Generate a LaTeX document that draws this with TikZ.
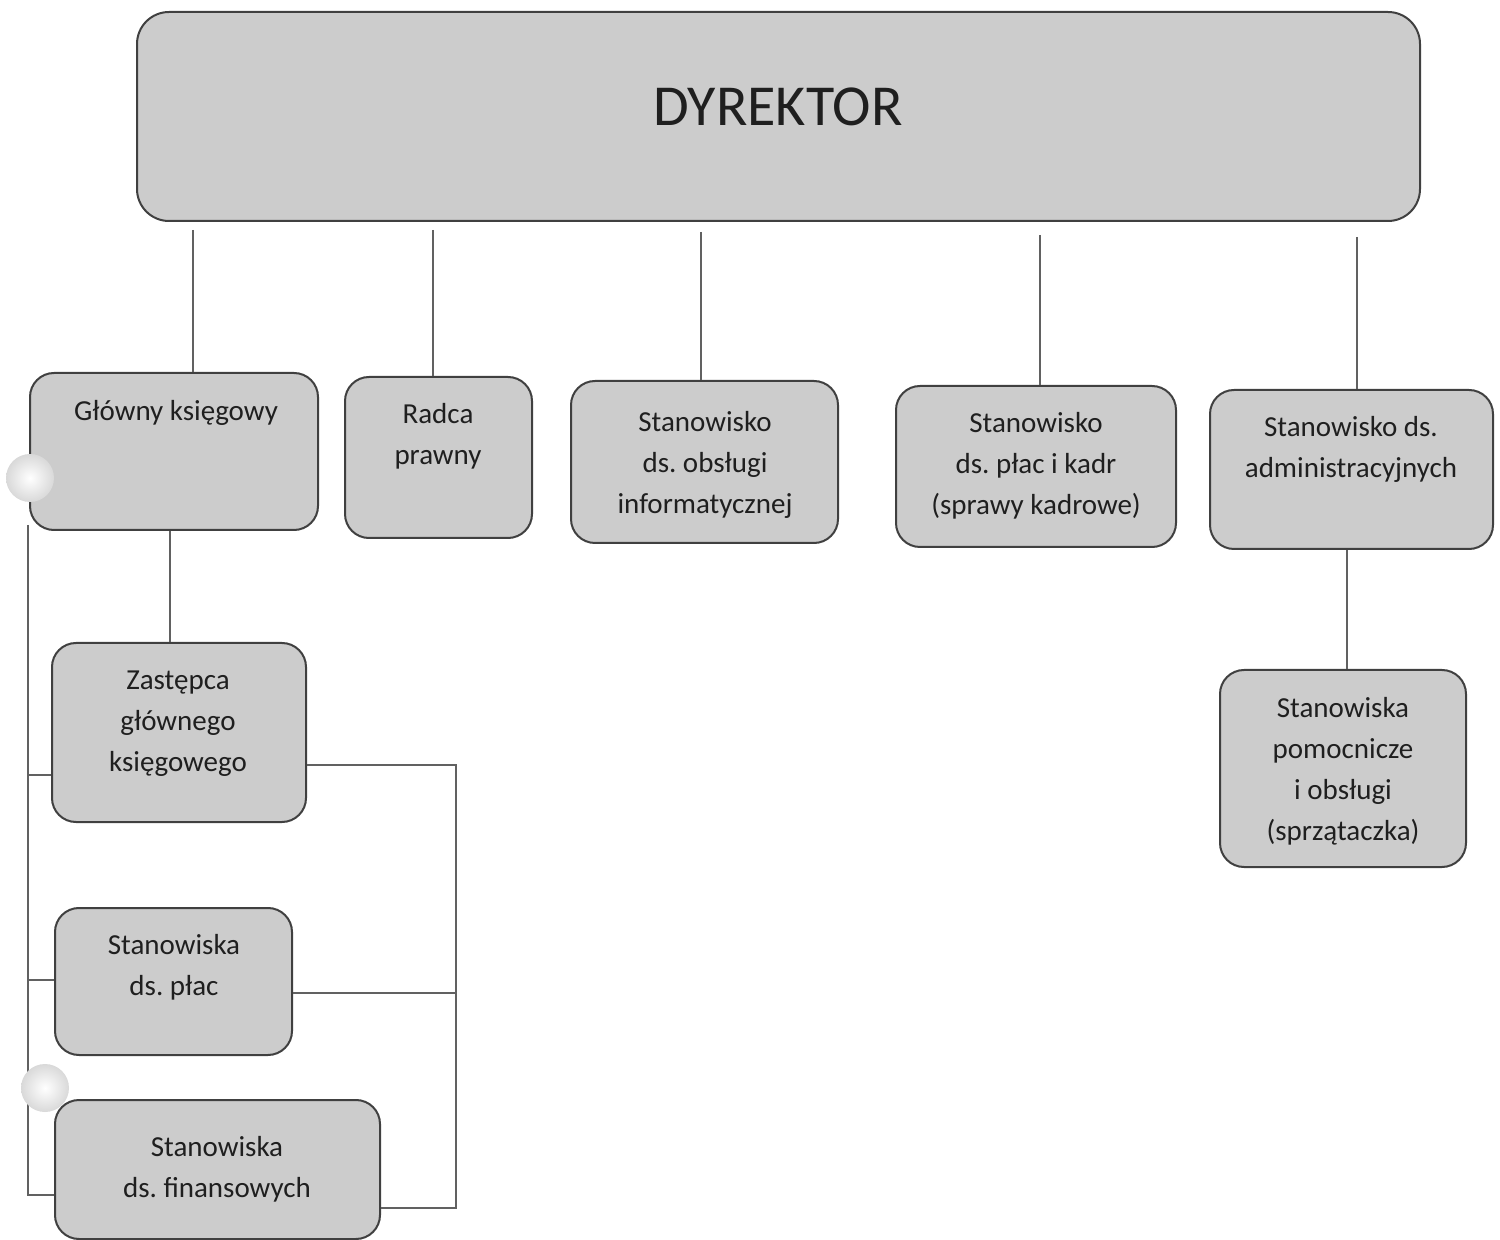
\documentclass[tikz,border=0pt]{standalone}
\usepackage{fontspec}
\setmainfont{Carlito}
\frenchspacing
\usetikzlibrary{fit}

\definecolor{boxfill}{rgb}{0.80,0.80,0.80}
\definecolor{boxline}{rgb}{0.25,0.25,0.25}
\definecolor{linkline}{rgb}{0.38,0.38,0.38}
\definecolor{textcol}{rgb}{0.12,0.12,0.12}

\tikzset{
  unit/.style={draw=boxline,fill=boxfill,line width=1pt,rounded corners=12pt,inner sep=0pt},
  unittext/.style={align=center,text=textcol,font=\fontsize{14.5}{20.5}\selectfont},
  link/.style={draw=linkline,line width=0.6pt},
  knob/.style={circle,inner sep=0pt,minimum size=24pt,inner color=white,outer color=gray!30}
}

\begin{document}
\begin{tikzpicture}[x=0.5pt,y=-0.5pt]
\useasboundingbox (0,0) rectangle (1500,1240);

% top
\node [unit,rounded corners=16pt,fit={(137,12) (1420,221)}] (dir) {};
\node [unittext,font=\fontsize{29}{34}\selectfont] (dir-t) at (778,107) {DYREKTOR};

% first level
\node [unit,fit={(30,373) (318,530)}] (gk) {};
\node [unittext] (gk-t) at (176,413) {Główny księgowy};

\node [unit,fit={(345,377) (532,538)}] (rp) {};
\node [unittext] (rp-t) at (438,436) {Radca\\prawny};

\node [unit,fit={(571,381) (838,543)}] (inf) {};
\node [unittext] (inf-t) at (705,465) {Stanowisko\\ds. obsługi\\informatycznej};

\node [unit,fit={(896,386) (1176,547)}] (kadr) {};
\node [unittext] (kadr-t) at (1036,466) {Stanowisko\\ds. płac i kadr\\(sprawy kadrowe)};

\node [unit,fit={(1210,390) (1493,549)}] (adm) {};
\node [unittext] (adm-t) at (1351,449) {Stanowisko ds.\\administracyjnych};

% below
\node [unit,fit={(1220,670) (1466,867)}] (pom) {};
\node [unittext] (pom-t) at (1343,771) {Stanowiska\\pomocnicze\\i obsługi\\(sprzątaczka)};

\node [unit,fit={(52,643) (306,822)}] (zk) {};
\node [unittext] (zk-t) at (178,724) {Zastępca\\głównego\\księgowego};

\node [unit,fit={(55,908) (292,1055)}] (pl) {};
\node [unittext] (pl-t) at (174,967) {Stanowiska\\ds. płac};

\node [unit,fit={(55,1100) (380,1239)}] (fin) {};
\node [unittext] (fin-t) at (217,1169) {Stanowiska\\ds. finansowych};

% connectors from the top box
\coordinate (d1) at (193,230);
\coordinate (d2) at (433,230);
\coordinate (d3) at (701,232);
\coordinate (d4) at (1040,235);
\coordinate (d5) at (1357,237);
\draw [link] (d1) -- (d1 |- gk.north);
\draw [link] (d2) -- (d2 |- rp.north);
\draw [link] (d3) -- (d3 |- inf.north);
\draw [link] (d4) -- (d4 |- kadr.north);
\draw [link] (d5) -- (d5 |- adm.north);

\coordinate (g1) at (170,0);
\draw [link] (g1 |- gk.south) -- (g1 |- zk.north);
\coordinate (a1) at (1347,0);
\draw [link] (a1 |- adm.south) -- (a1 |- pom.north);

% left bus
\coordinate (lb) at (28,525);
\coordinate (l1) at (28,775);
\coordinate (l2) at (28,980);
\coordinate (l3) at (28,1195);
\draw [link] (lb) -- (l3) -- (l3 -| fin.west);
\draw [link] (l1) -- (l1 -| zk.west);
\draw [link] (l2) -- (l2 -| pl.west);

% right bus
\coordinate (r1) at (456,765);
\coordinate (r2) at (456,993);
\coordinate (r3) at (456,1208);
\draw [link] (r1 -| zk.east) -- (r1) -- (r3) -- (r3 -| fin.east);
\draw [link] (r2 -| pl.east) -- (r2);

\node [knob] (k1) at (30,478) {};
\node [knob] (k2) at (45,1088) {};
\end{tikzpicture}
\end{document}
